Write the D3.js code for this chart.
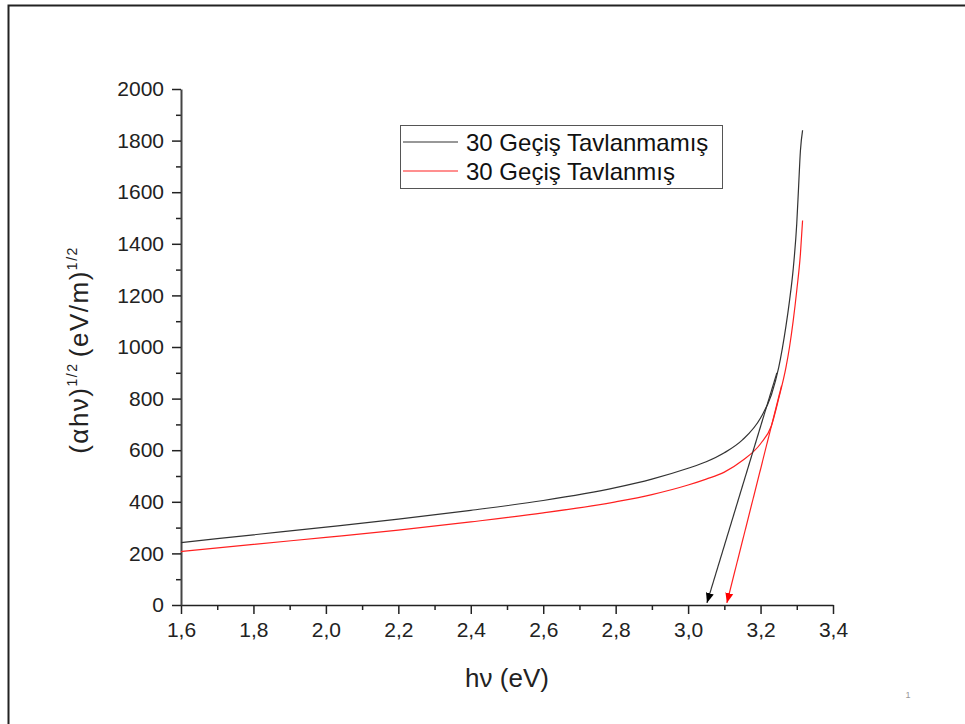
<!DOCTYPE html>
<html>
<head>
<meta charset="utf-8">
<script src="https://cdn.jsdelivr.net/npm/d3@7"></script>
<style>
  body { margin: 0; background: #fff; }
  svg { font-family: "Liberation Sans", Arial, sans-serif; }
</style>
</head>
<body>
<div id="chart"></div>
<script>
// photon energy (eV) and (alpha h nu)^1/2
var energyUnannealed = [1.6, 1.8, 2.0, 2.2, 2.4, 2.6, 2.8, 2.9, 3.0, 3.05, 3.1, 3.15, 3.2, 3.23, 3.25, 3.27, 3.28, 3.29, 3.30, 3.305, 3.31, 3.316];
var valueUnannealed  = [242, 272, 302, 333, 367, 405, 455, 488, 530, 555, 590, 640, 725, 815, 920, 1080, 1180, 1300, 1480, 1620, 1760, 1840];
var energyAnnealed   = [1.6, 1.8, 2.0, 2.2, 2.4, 2.6, 2.8, 2.9, 3.0, 3.05, 3.1, 3.15, 3.2, 3.23, 3.25, 3.27, 3.28, 3.29, 3.30, 3.31, 3.316];
var valueAnnealed    = [207, 235, 262, 290, 322, 357, 400, 428, 465, 488, 515, 560, 625, 695, 800, 920, 1000, 1100, 1220, 1360, 1490];

// tangent (band gap extrapolation) lines: [from, to] in data units
var tangentUnannealed = [[3.245, 900], [3.052, 8]];
var tangentAnnealed   = [[3.258, 850], [3.107, 8]];

var seriesNames = ["30 Geçiş Tavlanmamış", "30 Geçiş Tavlanmış"];
var seriesColors = ["#333333", "#ff2020"];

var xTicks = [1.6, 1.8, 2.0, 2.2, 2.4, 2.6, 2.8, 3.0, 3.2, 3.4];
var xMinor = [1.7, 1.9, 2.1, 2.3, 2.5, 2.7, 2.9, 3.1, 3.3];
var yTicks = [0, 200, 400, 600, 800, 1000, 1200, 1400, 1600, 1800, 2000];
var yMinor = [100, 300, 500, 700, 900, 1100, 1300, 1500, 1700, 1900];

var W = 965, H = 724;
var svg = d3.select("#chart").append("svg")
    .attr("width", W)
    .attr("height", H);

// slide frame
svg.append("rect")
    .attr("x", 8.5).attr("y", 5.5)
    .attr("width", 1000).attr("height", 1000)
    .attr("fill", "none")
    .attr("stroke", "#222")
    .attr("stroke-width", 2);

var x = d3.scaleLinear().domain([1.6, 3.4]).range([181, 833]);
var y = d3.scaleLinear().domain([0, 2000]).range([605, 89]);

var fmt = function(d) { return d3.format(".1f")(d).replace(".", ","); };

// minor ticks first
svg.append("g")
    .attr("transform", "translate(0,605)")
    .call(d3.axisBottom(x).tickValues(xMinor).tickSize(5).tickSizeOuter(0).tickFormat(""))
    .call(function(g) { g.select(".domain").remove(); })
    .selectAll("line").attr("stroke", "#222").attr("stroke-width", 1.5);

svg.append("g")
    .attr("transform", "translate(181,0)")
    .call(d3.axisLeft(y).tickValues(yMinor).tickSize(5).tickSizeOuter(0).tickFormat(""))
    .call(function(g) { g.select(".domain").remove(); })
    .selectAll("line").attr("stroke", "#222").attr("stroke-width", 1.5);

// major axes
var xAxis = svg.append("g")
    .attr("transform", "translate(0,605)")
    .call(d3.axisBottom(x).tickValues(xTicks).tickSize(9).tickPadding(8).tickSizeOuter(0).tickFormat(fmt));
xAxis.select(".domain").attr("stroke", "#222").attr("stroke-width", 1.5);
xAxis.selectAll("line").attr("stroke", "#222").attr("stroke-width", 1.5);
xAxis.selectAll("text").attr("fill", "#222").style("font-size", "21px");

var yAxis = svg.append("g")
    .attr("transform", "translate(181,0)")
    .call(d3.axisLeft(y).tickValues(yTicks).tickSize(9).tickPadding(8).tickSizeOuter(0).tickFormat(d3.format("d")));
yAxis.select(".domain").attr("stroke", "#444").attr("stroke-width", 2);
yAxis.selectAll("line").attr("stroke", "#222").attr("stroke-width", 1.5);
yAxis.selectAll("text").attr("fill", "#222").style("font-size", "21px");

// axis titles
svg.append("text")
    .attr("x", 507).attr("y", 687)
    .attr("text-anchor", "middle")
    .attr("fill", "#222")
    .style("font-size", "26px")
    .text("hν (eV)");

var yl = svg.append("text")
    .attr("transform", "translate(88,350) rotate(-90)")
    .attr("text-anchor", "middle")
    .attr("fill", "#222")
    .style("font-size", "26px")
    .style("letter-spacing", "1.5px");
yl.append("tspan").text("(αhν)");
yl.append("tspan").attr("dy", -11).style("font-size", "14px").text("1/2 ");
yl.append("tspan").attr("dy", 11).text("(eV/m)");
yl.append("tspan").attr("dy", -11).style("font-size", "14px").text("1/2");

// curves
var line = d3.line()
    .x(function(d) { return x(d[0]); })
    .y(function(d) { return y(d[1]); })
    .curve(d3.curveMonotoneX);

var straight = d3.line()
    .x(function(d) { return x(d[0]); })
    .y(function(d) { return y(d[1]); });

var curves = [d3.zip(energyUnannealed, valueUnannealed), d3.zip(energyAnnealed, valueAnnealed)];
svg.append("g")
    .selectAll("path")
    .data(curves)
    .enter()
    .append("path")
        .attr("d", line)
        .attr("fill", "none")
        .attr("stroke", function(d, i) { return seriesColors[i]; })
        .attr("stroke-width", 1.2);

// arrow markers
var defs = svg.append("defs");
seriesColors.forEach(function(c, i) {
    defs.append("marker")
        .attr("id", "arrow" + i)
        .attr("viewBox", "0 0 10 10")
        .attr("refX", 10).attr("refY", 5)
        .attr("markerWidth", 10).attr("markerHeight", 10)
        .attr("markerUnits", "userSpaceOnUse")
        .attr("orient", "auto")
        .append("path")
            .attr("d", "M0,1 L10,5 L0,9 Z")
            .attr("fill", i == 0 ? "#000" : "#ff0000");
});

svg.append("g")
    .selectAll("path")
    .data([tangentUnannealed, tangentAnnealed])
    .enter()
    .append("path")
        .attr("d", straight)
        .attr("fill", "none")
        .attr("stroke", function(d, i) { return seriesColors[i]; })
        .attr("stroke-width", 1.2)
        .attr("marker-end", function(d, i) { return "url(#arrow" + i + ")"; });

// legend
var legend = svg.append("g");
legend.append("rect")
    .attr("x", 400.5).attr("y", 125.5)
    .attr("width", 322).attr("height", 63)
    .attr("fill", "#fff")
    .attr("stroke", "#555")
    .attr("stroke-width", 1);
seriesNames.forEach(function(name, i) {
    var ly = 142 + i * 29;
    legend.append("line")
        .attr("x1", 403).attr("x2", 458)
        .attr("y1", ly).attr("y2", ly)
        .attr("stroke", seriesColors[i])
        .attr("stroke-width", 1.2);
    legend.append("text")
        .attr("x", 466).attr("y", ly + 9)
        .attr("fill", "#111")
        .style("font-size", "24px")
        .text(name);
});

// slide page number
svg.append("text")
    .attr("x", 908).attr("y", 698)
    .attr("text-anchor", "middle")
    .attr("fill", "#999")
    .style("font-size", "9px")
    .text("1");
</script>
</body>
</html>
